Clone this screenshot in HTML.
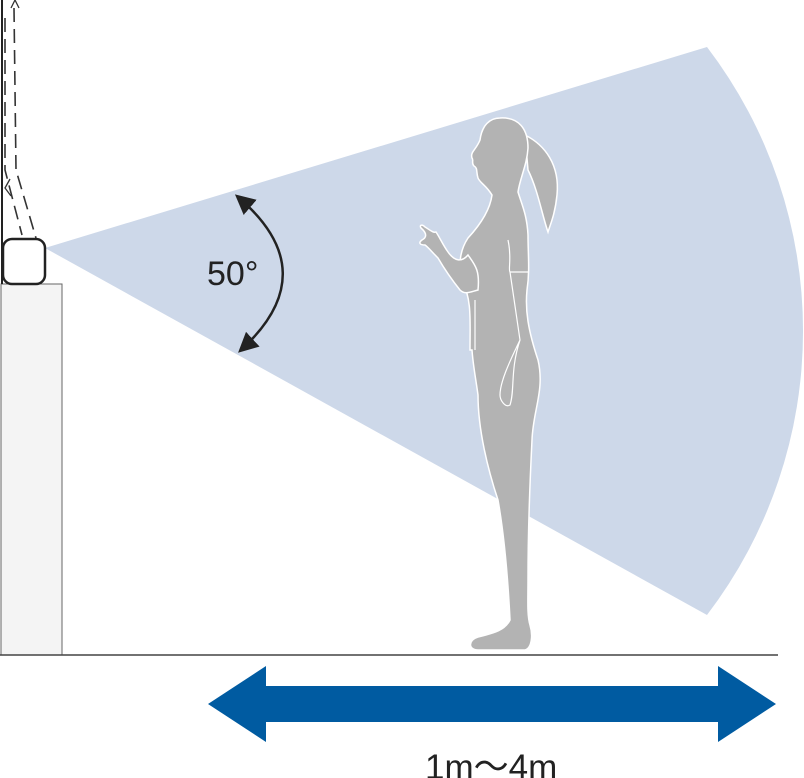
<!DOCTYPE html>
<html><head><meta charset="utf-8"><style>
html,body{margin:0;padding:0;background:#fff;width:804px;height:778px;overflow:hidden}
</style></head><body>
<svg width="804" height="778" viewBox="0 0 804 778" xmlns="http://www.w3.org/2000/svg">
<defs>
<marker id="ah" viewBox="0 0 10 10" refX="8" refY="5" markerWidth="8" markerHeight="8" orient="auto-start-reverse"><path d="M0,0 L10,5 L0,10 z" fill="#222"/></marker>
</defs>
<path d="M45,248 L707,47 A468,468 0 0 1 707,615 Z" fill="#cdd8e9"/>
<rect x="1" y="284" width="61" height="371" fill="#f4f4f4" stroke="#666" stroke-width="1"/>
<line x1="2" y1="0" x2="2" y2="284" stroke="#222" stroke-width="2"/>
<path d="M5,18 L5,170 L22,235" fill="none" stroke="#333" stroke-width="1.6" stroke-dasharray="14,7"/>
<path d="M14,8 L16,170 L36,238" fill="none" stroke="#333" stroke-width="1.6" stroke-dasharray="14,7"/>
<path d="M10,179 L5,188 L11,196" fill="none" stroke="#333" stroke-width="1.3"/>
<path d="M11,8 L15,0 L19,8" fill="none" stroke="#333" stroke-width="1.3"/>
<rect x="3" y="239" width="42" height="45" rx="9" fill="#fff" stroke="#222" stroke-width="2.5"/>
<line x1="0" y1="655" x2="778" y2="655" stroke="#444" stroke-width="1.5"/>
<path d="M238,197 Q326,272 241,350" fill="none" stroke="#222" stroke-width="2.5" marker-start="url(#ah)" marker-end="url(#ah)"/>
<text x="207" y="285" font-family="Liberation Sans, sans-serif" font-size="34" fill="#222">50°</text>
<g fill="#b3b3b3" stroke="#fff" stroke-width="1.5">
<path d="M525,135 C545,145 560,165 557,195 C555,215 550,225 548,232 C542,215 538,190 528,170 Z"/>
<path d="M500,118 C518,117 528,128 528,148 C527,165 520,178 518,192 C522,205 527,215 528,235 C528,255 530,270 527,290 C525,310 528,330 538,360 C545,390 533,410 532,440 C530,480 528,530 528,580 C528,600 527,615 530,625 C533,635 532,648 525,650 L478,650 C468,650 468,640 478,637 C495,633 505,630 510,620 C508,580 505,540 498,500 C488,470 478,430 478,395 C476,380 473,365 472,350 L470,350 C470,320 472,300 462,280 C458,265 460,250 468,238 C480,225 490,210 492,195 C486,185 480,183 478,178 C476,172 478,168 474,166 C471,163 474,160 472,158 C470,152 476,150 480,140 C482,125 490,118 500,118 Z"/>
<path d="M468,255 C475,265 480,270 478,290 C470,292 465,295 460,290 C452,280 445,270 438,258 C432,252 428,247 425,245 C420,245 418,243 422,240 C426,238 428,234 421,228 C419,225 422,224 425,227 C430,230 433,233 436,232 C440,238 443,245 448,252 C455,262 462,262 468,255 Z"/>
</g>
<path d="M508,240 C512,258 508,270 510,272 L528,272" fill="none" stroke="#fff" stroke-width="1.2"/>
<path d="M475,300 L475,350 M510,272 L520,340 C513,355 500,380 500,395 C500,400 505,408 510,405 C515,390 510,370 520,340" fill="none" stroke="#fff" stroke-width="1.2"/>
<path d="M208,704 L266,666 L266,686 L718,686 L718,666 L776,704 L718,742 L718,722 L266,722 L266,742 Z" fill="#005ba1"/>
<text x="425" y="779" font-family="Liberation Sans, 'Noto Sans CJK JP', sans-serif" font-size="35" fill="#222">1m～4m</text>
</svg>
</body></html>
